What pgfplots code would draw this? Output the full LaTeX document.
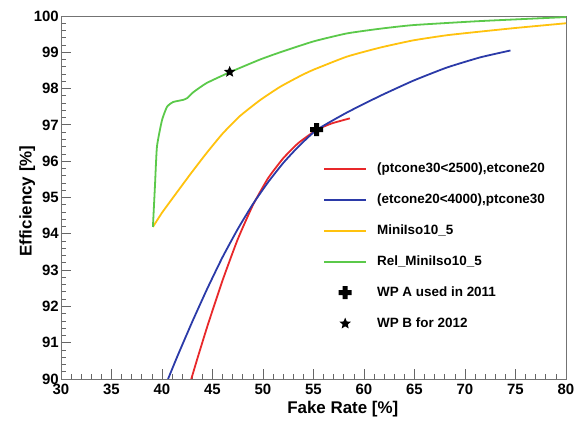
\documentclass[border=0pt]{standalone}
\usepackage{pgfplots}
\pgfplotsset{compat=1.18}
\usepackage{fontspec}
\setmainfont{Liberation Sans}
\definecolor{cred}{RGB}{232,40,42}
\definecolor{cblue}{RGB}{43,58,168}
\definecolor{cyel}{RGB}{255,194,14}
\definecolor{cgreen}{RGB}{91,201,74}
\pgfplotsset{markleg/.style={legend image code/.code={\draw[##1,only marks,mark repeat=2,mark phase=2] plot coordinates {(0bp,0bp) (21bp,0bp) (42bp,0bp)};}}}
\pgfdeclareplotmark{fcross}{%
  \pgfpathmoveto{\pgfpoint{0.38\pgfplotmarksize}{\pgfplotmarksize}}%
  \pgfpathlineto{\pgfpoint{0.38\pgfplotmarksize}{0.38\pgfplotmarksize}}%
  \pgfpathlineto{\pgfpoint{\pgfplotmarksize}{0.38\pgfplotmarksize}}%
  \pgfpathlineto{\pgfpoint{\pgfplotmarksize}{-0.38\pgfplotmarksize}}%
  \pgfpathlineto{\pgfpoint{0.38\pgfplotmarksize}{-0.38\pgfplotmarksize}}%
  \pgfpathlineto{\pgfpoint{0.38\pgfplotmarksize}{-\pgfplotmarksize}}%
  \pgfpathlineto{\pgfpoint{-0.38\pgfplotmarksize}{-\pgfplotmarksize}}%
  \pgfpathlineto{\pgfpoint{-0.38\pgfplotmarksize}{-0.38\pgfplotmarksize}}%
  \pgfpathlineto{\pgfpoint{-\pgfplotmarksize}{-0.38\pgfplotmarksize}}%
  \pgfpathlineto{\pgfpoint{-\pgfplotmarksize}{0.38\pgfplotmarksize}}%
  \pgfpathlineto{\pgfpoint{-0.38\pgfplotmarksize}{0.38\pgfplotmarksize}}%
  \pgfpathlineto{\pgfpoint{-0.38\pgfplotmarksize}{\pgfplotmarksize}}%
  \pgfpathclose\pgfusepathqfill}
\pgfdeclareplotmark{fstar}{%
  \pgfpathmoveto{\pgfpointpolar{90}{\pgfplotmarksize}}%
  \pgfpathlineto{\pgfpointpolar{126}{0.45\pgfplotmarksize}}%
  \pgfpathlineto{\pgfpointpolar{162}{\pgfplotmarksize}}%
  \pgfpathlineto{\pgfpointpolar{198}{0.45\pgfplotmarksize}}%
  \pgfpathlineto{\pgfpointpolar{234}{\pgfplotmarksize}}%
  \pgfpathlineto{\pgfpointpolar{270}{0.45\pgfplotmarksize}}%
  \pgfpathlineto{\pgfpointpolar{306}{\pgfplotmarksize}}%
  \pgfpathlineto{\pgfpointpolar{342}{0.45\pgfplotmarksize}}%
  \pgfpathlineto{\pgfpointpolar{18}{\pgfplotmarksize}}%
  \pgfpathlineto{\pgfpointpolar{54}{0.45\pgfplotmarksize}}%
  \pgfpathclose\pgfusepathqfill}
\begin{document}
\begin{tikzpicture}
\path[use as bounding box] (0bp,0bp) rectangle (577bp,426bp);
\begin{axis}[
  at={(61bp,47bp)}, anchor=south west,
  scale only axis, width=505bp, height=363bp,
  xmin=30, xmax=80, ymin=90, ymax=100,
  xtick={30,35,...,80}, ytick={90,91,...,100},
  minor x tick num=4, minor y tick num=4,
  tick align=inside, xtick pos=bottom, ytick pos=left,
  major tick length=10bp, minor tick length=5bp,
  tick style={black!60, line width=0.8pt},
  axis line style={black!55, line width=0.8pt},
  /pgf/number format/assume math mode=true,
  ticklabel style={font=\bfseries\fontsize{15}{18}\selectfont},
  yticklabel style={inner sep=2bp},
  xticklabel style={yshift=-2bp},
  xlabel={Fake Rate [\%]}, ylabel={Efficiency [\%]},
  label style={font=\bfseries\fontsize{17}{20}\selectfont},
  xlabel style={at={(axis description cs:0.558,-0.083)}, anchor=center},
  ylabel style={at={(axis description cs:-0.067,0.49)}, anchor=center},
  legend cell align=left,
  legend style={at={(axis description cs:0.519,0.598)}, anchor=north west,
    draw=none, fill=none, inner sep=0pt,
    font=\bfseries\fontsize{13.5}{16}\selectfont,
    nodes={inner sep=0pt, text height=10bp, text depth=3bp},
    row sep=18bp,
    /tikz/every odd column/.append style={column sep=10bp}},
  legend image code/.code={\draw[#1] (0bp,0bp) -- (42bp,0bp);},
  every axis plot/.append style={line width=1.8bp},
]
\addplot[cred, no marks, smooth, tension=0.3] coordinates {
(42.9,90.0) (43.5,90.56) (44.5,91.46) (46.0,92.72) (47.5,93.85) (49.0,94.79)
(50.5,95.53) (52.0,96.08) (53.5,96.5) (55.3,96.86) (56.8,97.04) (58.6,97.18)};
\addlegendentry{(ptcone30<2500),etcone20}
\addplot[cblue, no marks, smooth, tension=0.3] coordinates {
(40.6,90.0) (41.5,90.61) (43.0,91.58) (44.5,92.5) (46.0,93.36) (47.5,94.13)
(49.0,94.82) (50.5,95.42) (52.0,95.95) (53.5,96.4) (55.3,96.86) (58.3,97.34)
(61.6,97.8) (64.9,98.22) (68.2,98.58) (71.5,98.86) (74.5,99.05)};
\addlegendentry{(etcone20<4000),ptcone30}
\addplot[cyel, no marks, smooth, tension=0.3] coordinates {
(39.1,94.19) (40.0,94.58) (41.1,95.0) (42.8,95.64) (44.4,96.22) (46.0,96.76)
(47.7,97.24) (49.7,97.68) (51.7,98.05) (53.7,98.35) (55.0,98.52) (58.3,98.88)
(61.6,99.13) (64.9,99.33) (68.2,99.47) (71.5,99.57) (75.0,99.67) (80.0,99.8)};
\addlegendentry{MiniIso10\_5}
\addplot[cgreen, no marks, smooth, tension=0.3] coordinates {
(39.1,94.19) (39.3,95.3) (39.5,96.4) (40.0,97.13) (40.5,97.5) (41.1,97.63)
(42.1,97.69) (42.5,97.74) (43.1,97.9) (44.4,98.15) (46.7,98.45) (49.7,98.8)
(51.7,99.0) (55.0,99.3) (58.3,99.52) (61.6,99.65) (64.9,99.75) (71.5,99.86)
(80.0,99.97)};
\addlegendentry{Rel\_MiniIso10\_5}
\addplot[only marks, mark=fcross, mark size=6.5bp, black, markleg]
  coordinates {(55.3,96.87)};
\addlegendentry{WP A used in 2011}
\addplot[only marks, mark=fstar, mark size=6bp, black, markleg]
  coordinates {(46.7,98.46)};
\addlegendentry{WP B for 2012}
\end{axis}
\end{tikzpicture}
\end{document}
